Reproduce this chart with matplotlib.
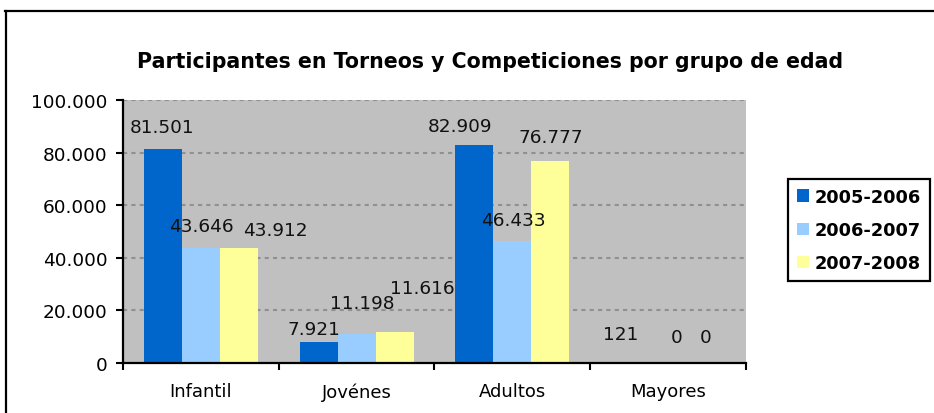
import numpy as np
import matplotlib.pyplot as plt
from matplotlib.lines import Line2D
from matplotlib.ticker import FuncFormatter, FixedLocator

# ---------------- data ----------------
categories = ['Infantil', 'Jovénes', 'Adultos', 'Mayores']
seasons = ['2005-2006', '2006-2007', '2007-2008']
v_2005 = [81501, 7921, 82909, 121]
v_2006 = [43646, 11198, 46433, 0]
v_2007 = [43912, 11616, 76777, 0]
yticks = [0, 20000, 40000, 60000, 80000, 100000]

colors = ['#0066CC', '#99CCFF', '#FFFF99']
# label offsets in pixels (dx, dy) -- mimic excel placement
lab_off = [[(-1, 22), (-5, 13), (-14, 19), (-9, 29)],
           [(0, 22), (6, 31), (1, 21), (9, 26)],
           [(36, 18), (28, 44), (0, 24), (0, 26)]]


def miles(v, pos=None):
    return '{:,}'.format(int(v)).replace(',', '.')


fig = plt.figure(figsize=(9.34, 4.14), dpi=100)
ax = fig.add_axes([0.1317, 0.1208, 0.6670, 0.6352])
ax.set_facecolor('#C0C0C0')

w = 0.244
x = np.arange(len(categories))
series = [v_2005, v_2006, v_2007]
for i, vals in enumerate(series):
    xs = x + (i - 1) * w
    ax.bar(xs, vals, width=w, color=colors[i], label=seasons[i], zorder=3)
    for j in range(len(vals)):
        ax.annotate(miles(vals[j]), xy=(xs[j], vals[j]), xytext=lab_off[i][j],
                    textcoords='offset pixels', ha='center', va='center',
                    fontsize=13.3, color='#111111', zorder=5)

ax.set_xlim(-0.5, 3.5)
ax.set_ylim(0, 100000)
ax.yaxis.set_major_locator(FixedLocator(yticks))
ax.yaxis.set_major_formatter(FuncFormatter(miles))
ax.grid(axis='y', color='#909090', linestyle=(0, (2, 2)), linewidth=1.5, zorder=1)

ax.set_xticks(x)
ax.set_xticklabels(categories)
ax.set_xticks(np.arange(-0.5, 4.0, 1.0), minor=True)
ax.tick_params(axis='x', which='major', length=0, pad=14, labelsize=13)
ax.tick_params(axis='x', which='minor', length=5, width=1.5, direction='out')
ax.tick_params(axis='y', length=5, width=1.5, direction='out', pad=6, labelsize=13.3)

for s in ['top', 'right']:
    ax.spines[s].set_visible(False)
for s in ['left', 'bottom']:
    ax.spines[s].set_linewidth(1.6)
    ax.spines[s].set_zorder(4)

fig.text(0.525, 0.85, 'Participantes en Torneos y Competiciones por grupo de edad',
         ha='center', va='center', fontsize=14.8, fontweight='bold')

leg = fig.legend(loc='upper left', bbox_to_anchor=(788 / 934, 1 - 180 / 414),
                 borderaxespad=0, fancybox=False, edgecolor='black', framealpha=1,
                 handlelength=0.7, handleheight=0.7, handletextpad=0.3,
                 labelspacing=0.85, borderpad=0.5,
                 prop={'weight': 'bold', 'size': 12.8})
leg.get_frame().set_linewidth(1.6)

# outer frame, only top and left visible
fig.add_artist(Line2D([5 / 934, 1], [1 - 12 / 414, 1 - 12 / 414], color='black', linewidth=1.6))
fig.add_artist(Line2D([6 / 934, 6 / 934], [0, 1 - 12 / 414], color='black', linewidth=1.6))

plt.savefig('out.png', dpi=100)
